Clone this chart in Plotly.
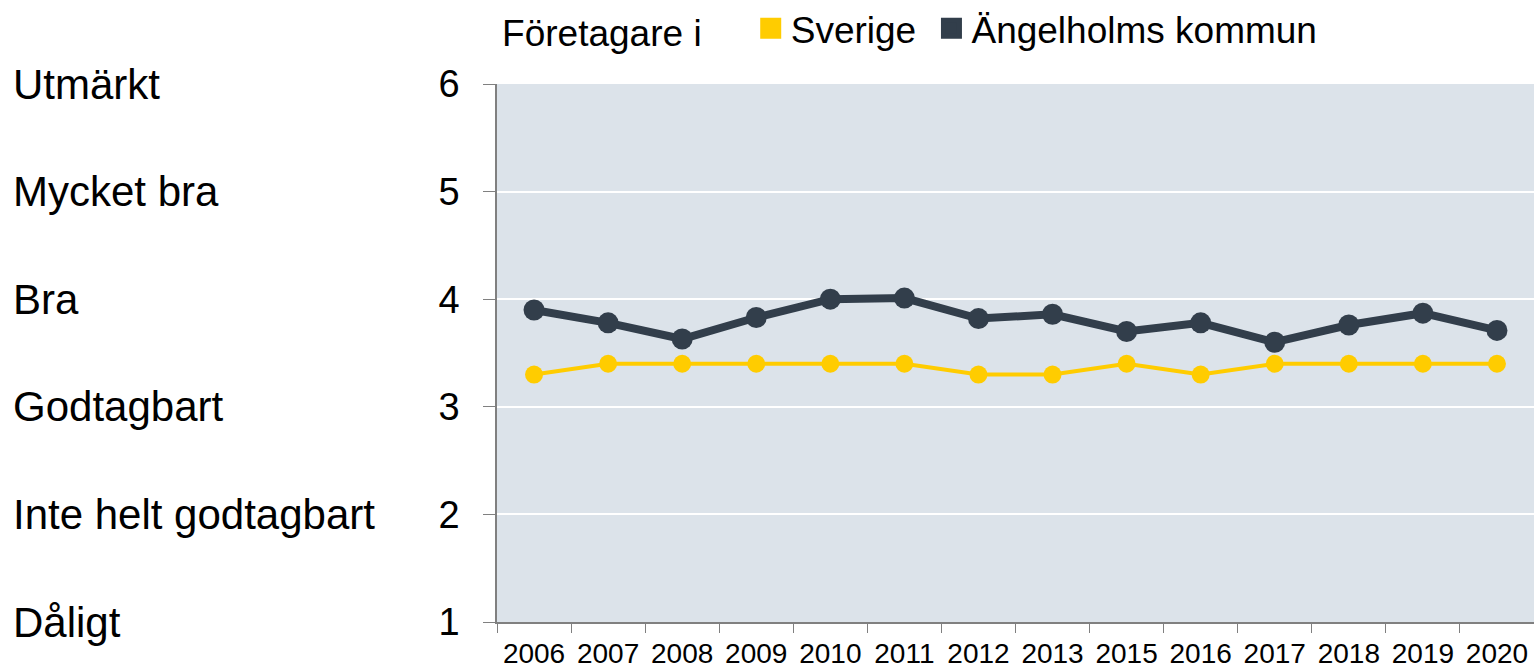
import plotly.graph_objects as go

years = ["2006", "2007", "2008", "2009", "2010", "2011", "2012", "2013",
         "2015", "2016", "2017", "2018", "2019", "2020"]
sverige = [3.3, 3.4, 3.4, 3.4, 3.4, 3.4, 3.3, 3.3, 3.4, 3.3, 3.4, 3.4, 3.4, 3.4]
angelholm = [3.90, 3.78, 3.63, 3.83, 4.00, 4.01, 3.82, 3.86, 3.70, 3.78, 3.60, 3.76, 3.87, 3.71]
y_ticks = [1, 2, 3, 4, 5, 6]
grade_labels = ["Dåligt", "Inte helt godtagbart", "Godtagbart", "Bra", "Mycket bra", "Utmärkt"]

YELLOW = "#FFCC00"
DARK = "#323E4B"
FONT = "Liberation Sans, Arial, sans-serif"

fig = go.Figure()
fig.add_trace(go.Scatter(x=years, y=sverige, mode="lines+markers", name="Sverige",
                         line=dict(color=YELLOW, width=4),
                         marker=dict(color=YELLOW, size=18), showlegend=False))
fig.add_trace(go.Scatter(x=years, y=angelholm, mode="lines+markers", name="Ängelholms kommun",
                         line=dict(color=DARK, width=8),
                         marker=dict(color=DARK, size=21), showlegend=False))
# legend entries (square swatches)
fig.add_trace(go.Scatter(x=[None], y=[None], mode="markers", name="Sverige ",
                         marker=dict(color=YELLOW, size=16, symbol="square",
                                     line=dict(color=YELLOW, width=5))))
fig.add_trace(go.Scatter(x=[None], y=[None], mode="markers", name="Ängelholms kommun",
                         marker=dict(color=DARK, size=16, symbol="square",
                                     line=dict(color=DARK, width=5))))

for v, lab in zip(y_ticks, grade_labels):
    fig.add_annotation(x=-0.4687, xref="paper", y=v, yref="y", text=lab,
                       showarrow=False, xanchor="left", yanchor="middle",
                       font=dict(size=42, color="#000000", family=FONT))

fig.update_layout(
    width=1534, height=668,
    margin=dict(l=497, r=0, t=84, b=46, autoexpand=False),
    paper_bgcolor="white",
    plot_bgcolor="#DCE3EA",
    font=dict(family=FONT, color="#000000"),
    legend=dict(orientation="h", x=0.003, xanchor="left", y=1.045, yanchor="bottom",
                title=dict(text="Företagare i    ", font=dict(size=37)),
                font=dict(size=37), bgcolor="rgba(0,0,0,0)"),
    xaxis=dict(type="category", range=[-0.5, 13.5], showgrid=False,
               showline=True, linecolor="#808080", linewidth=1.5,
               ticks="outside", tickson="boundaries", ticklen=9, tickcolor="#808080",
               ticklabelstandoff=6,
               tickfont=dict(size=28, color="#000000"), zeroline=False),
    yaxis=dict(range=[1, 6], tickvals=y_ticks, showgrid=True, gridcolor="#FFFFFF", gridwidth=1.5,
               showline=True, linecolor="#808080", linewidth=1.5,
               ticks="outside", ticklen=12, tickcolor="#808080",
               ticklabelstandoff=16,
               tickfont=dict(size=38, color="#000000"), zeroline=False),
)

fig.write_html("out.html", config={"displayModeBar": False},
               post_script="document.body.style.margin='0px';document.body.style.overflow='hidden';")
